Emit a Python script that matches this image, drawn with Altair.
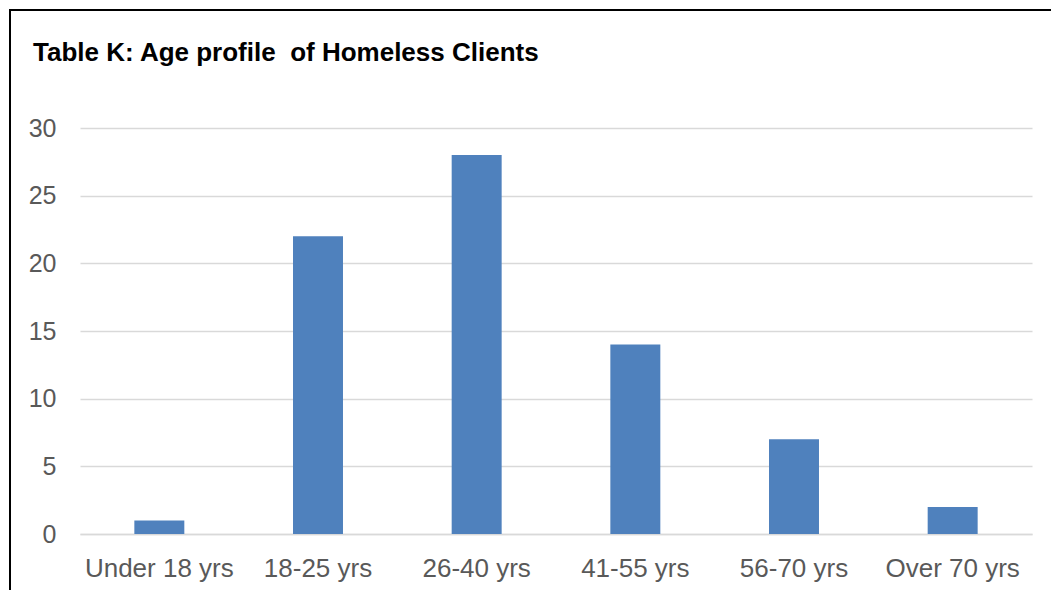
import altair as alt
import pandas as pd

categories = ["Under 18 yrs", "18-25 yrs", "26-40 yrs", "41-55 yrs", "56-70 yrs", "Over 70 yrs"]
values = [1, 22, 28, 14, 7, 2]
y_ticks = [0, 5, 10, 15, 20, 25, 30]
title_text = "Table K: Age profile\u00a0 of Homeless Clients"

df = pd.DataFrame({"category": categories, "value": values})

FONT = "Liberation Sans"

bars = alt.Chart(df).mark_bar(color="#4F81BD", strokeWidth=0).encode(
    x=alt.X("category:N", sort=categories,
            scale=alt.Scale(paddingInner=0.685, paddingOuter=0.3425),
            axis=alt.Axis(title=None, labelAngle=0, ticks=False, domain=True,
                          domainColor="#D9D9D9", domainWidth=1.3,
                          labelFontSize=26, labelColor="#595959", labelFont=FONT,
                          labelPadding=21, grid=False)),
    y=alt.Y("value:Q", scale=alt.Scale(domain=[0, 30], nice=False),
            axis=alt.Axis(title=None, values=y_ticks, ticks=False, domain=False,
                          gridColor="#D9D9D9", gridWidth=1.3,
                          labelFontSize=25, labelColor="#595959", labelFont=FONT,
                          labelPadding=24)),
)

frame_data = alt.Data(values=[{"k": 1}])
left_border = alt.Chart(frame_data).mark_rule(color="black", strokeWidth=2).encode(
    x=alt.value(-70), y=alt.value(-119), y2=alt.value(470)
)
top_border = alt.Chart(frame_data).mark_rule(color="black", strokeWidth=2).encode(
    x=alt.value(-71), x2=alt.value(990), y=alt.value(-118)
)
title_mark = alt.Chart(frame_data).mark_text(
    text=title_text, align="left", baseline="alphabetic", fontSize=26,
    font=FONT, fontWeight="bold", color="black"
).encode(x=alt.value(-47), y=alt.value(-67))

chart = alt.layer(bars, left_border, top_border, title_mark).properties(
    width=952,
    height=406,
    background="white",
    padding={"left": 80, "top": 128, "right": 19, "bottom": 56},
    autosize=alt.AutoSizeParams(type="none"),
).configure_view(strokeWidth=0)

chart.save("out.html", embed_options={"renderer": "svg", "actions": False})
